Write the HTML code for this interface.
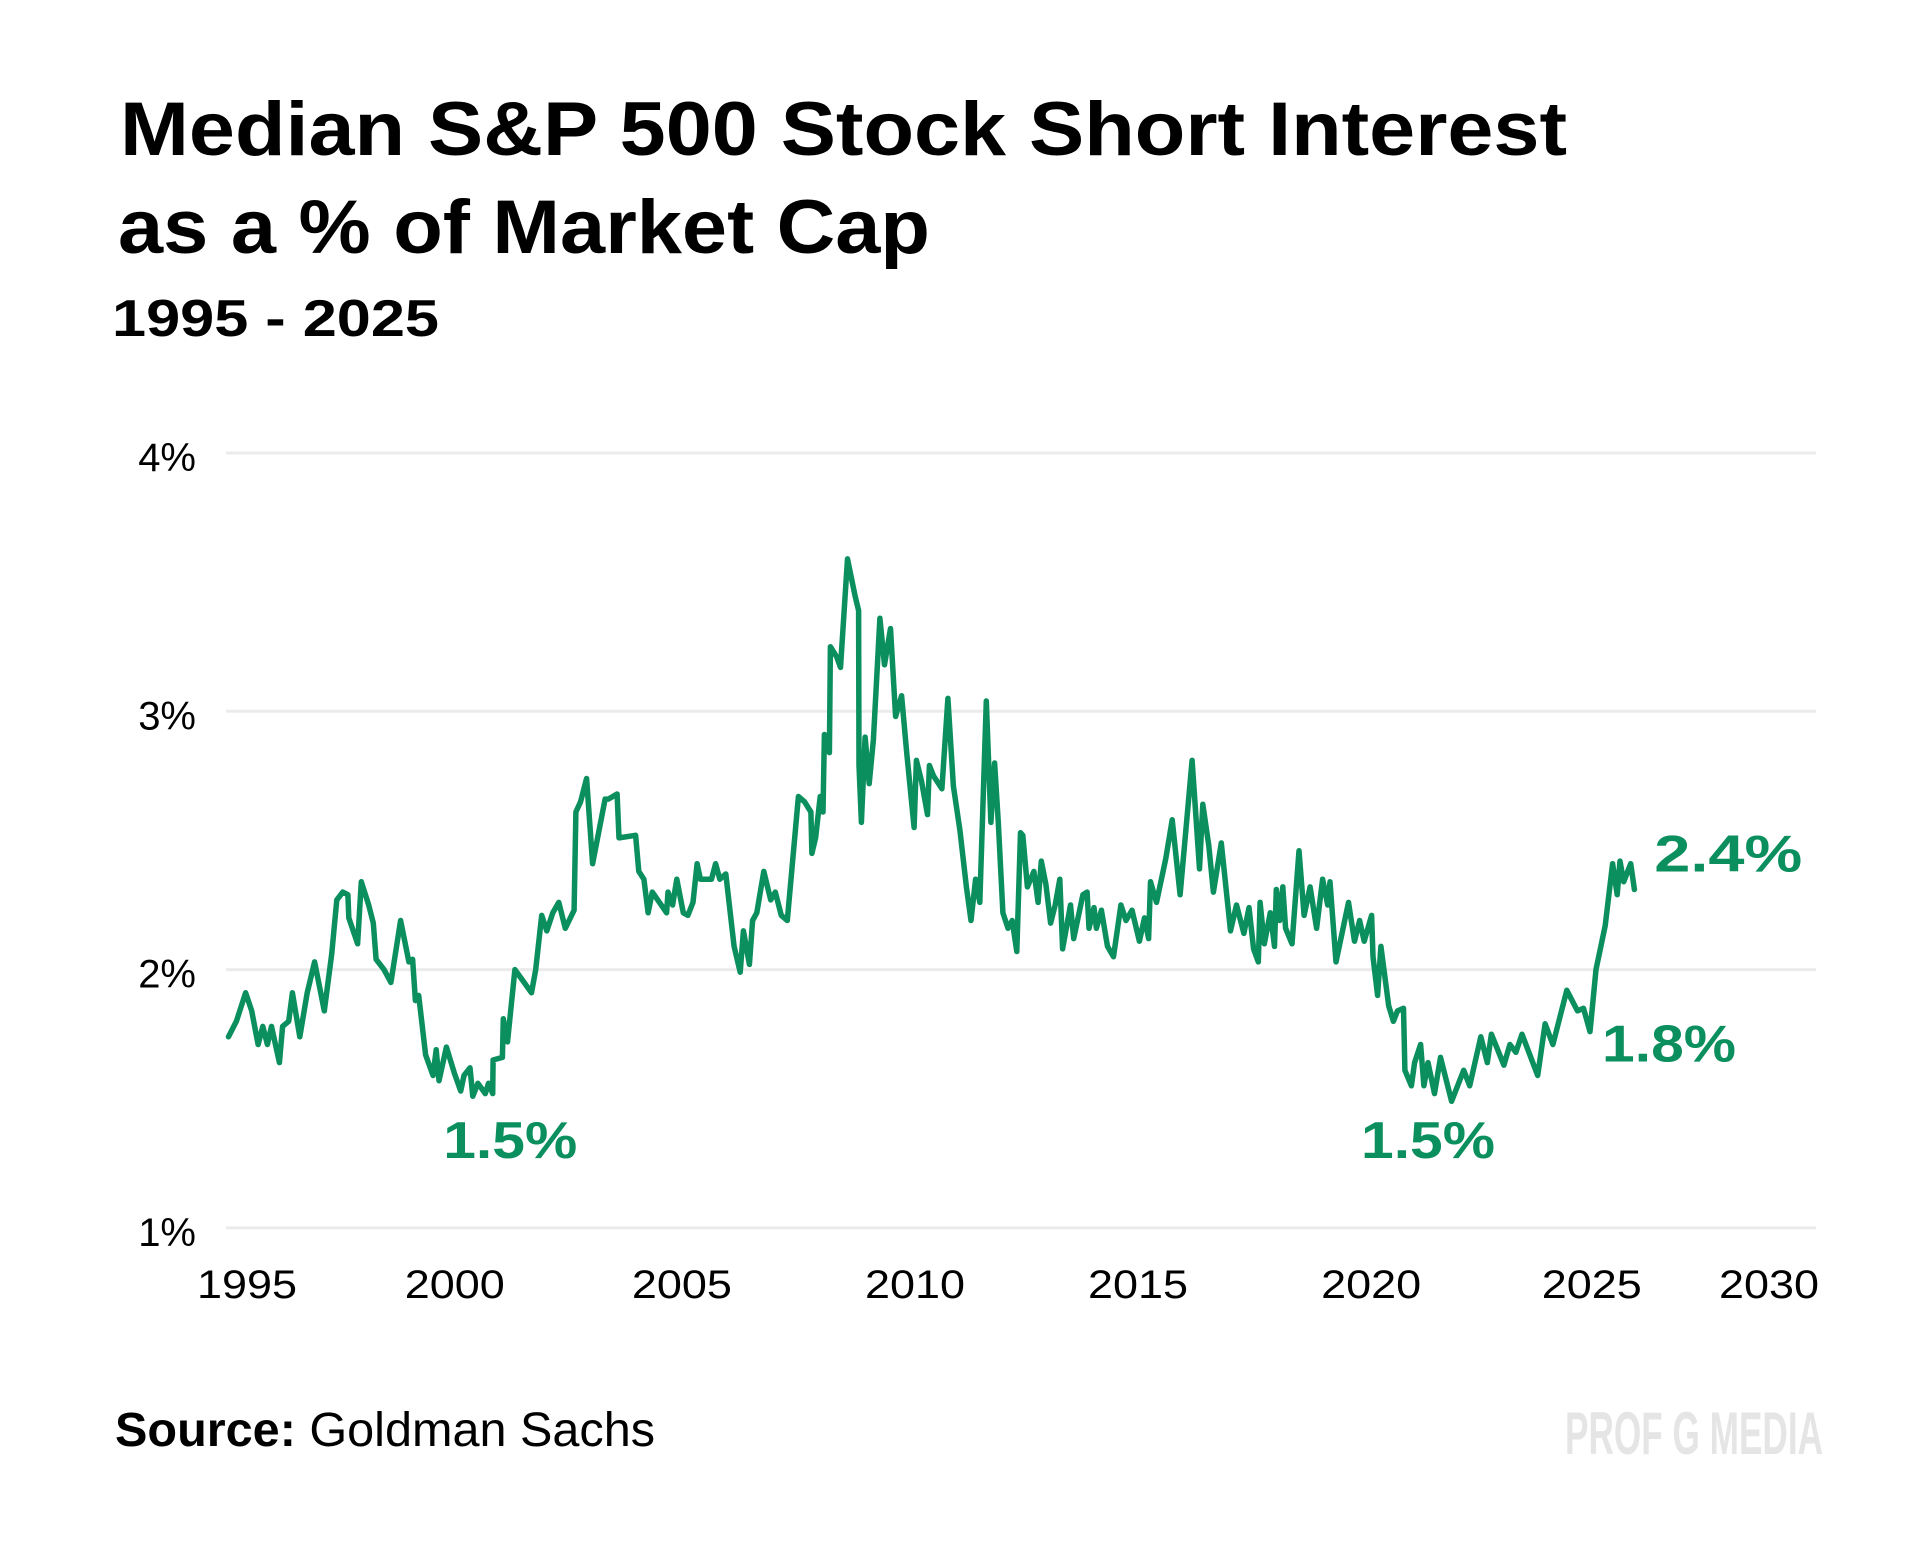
<!DOCTYPE html>
<html><head><meta charset="utf-8"><style>
html,body{margin:0;padding:0;background:#fff;}
svg{display:block;font-family:"Liberation Sans",sans-serif;}
</style></head><body>
<svg id="chart" width="1920" height="1544" viewBox="0 0 1920 1544" xmlns="http://www.w3.org/2000/svg">
<rect width="1920" height="1544" fill="#fff"/>
<text x="120" y="155" font-size="76" font-weight="bold" textLength="1447" lengthAdjust="spacingAndGlyphs">Median S&amp;P 500 Stock Short Interest</text>
<text x="118" y="253" font-size="76" font-weight="bold" textLength="812" lengthAdjust="spacingAndGlyphs">as a % of Market Cap</text>
<text x="112" y="336" font-size="52" font-weight="bold" textLength="327" lengthAdjust="spacingAndGlyphs">1995 - 2025</text>
<g id="grid"></g>
<g id="yaxis"></g>
<g id="xaxis"></g>
<path id="line" fill="none" stroke="#0b8f5e" stroke-width="5.5" stroke-linejoin="round" stroke-linecap="round"/>
<g id="annots"></g>
<text x="115" y="1446" font-size="48" textLength="540" lengthAdjust="spacingAndGlyphs"><tspan font-weight="bold">Source:</tspan> Goldman Sachs</text>
<text x="1565" y="1454" font-size="60" font-weight="bold" fill="#e5e5e5" font-family="Liberation Sans Narrow, Liberation Sans, sans-serif" textLength="258" lengthAdjust="spacingAndGlyphs">PROF G MEDIA</text>
</svg>
<script>
const dates = [1994.86,1995.03,1995.23,1995.36,1995.50,1995.60,1995.70,1995.79,1995.96,1996.03,1996.16,1996.24,1996.40,1996.56,1996.72,1996.93,1997.09,1997.20,1997.33,1997.44,1997.46,1997.65,1997.73,1997.89,1997.99,1998.05,1998.22,1998.37,1998.58,1998.76,1998.84,1998.90,1998.97,1999.12,1999.28,1999.35,1999.41,1999.57,1999.74,1999.88,1999.95,2000.08,2000.14,2000.25,2000.41,2000.48,2000.57,2000.58,2000.78,2000.80,2000.89,2001.05,2001.21,2001.41,2001.50,2001.63,2001.74,2001.87,2002.00,2002.14,2002.33,2002.37,2002.47,2002.60,2002.73,2003.00,2003.07,2003.26,2003.30,2003.66,2003.73,2003.84,2003.93,2004.02,2004.33,2004.36,2004.46,2004.55,2004.69,2004.79,2004.90,2004.99,2005.06,2005.30,2005.39,2005.48,2005.61,2005.79,2005.92,2005.99,2006.12,2006.19,2006.28,2006.43,2006.58,2006.68,2006.81,2006.94,2007.18,2007.31,2007.45,2007.47,2007.55,2007.65,2007.71,2007.74,2007.85,2007.87,2008.01,2008.09,2008.24,2008.40,2008.48,2008.49,2008.54,2008.62,2008.71,2008.80,2008.94,2009.04,2009.17,2009.28,2009.41,2009.52,2009.68,2009.73,2009.84,2009.97,2010.01,2010.10,2010.28,2010.41,2010.53,2010.67,2010.81,2010.91,2011.01,2011.10,2011.24,2011.34,2011.42,2011.50,2011.60,2011.71,2011.80,2011.90,2011.98,2012.03,2012.13,2012.27,2012.36,2012.43,2012.53,2012.63,2012.73,2012.83,2012.89,2013.06,2013.13,2013.33,2013.42,2013.46,2013.57,2013.62,2013.73,2013.86,2013.99,2014.15,2014.26,2014.39,2014.55,2014.66,2014.75,2014.79,2014.92,2015.12,2015.26,2015.43,2015.69,2015.85,2015.92,2016.05,2016.15,2016.32,2016.52,2016.65,2016.81,2016.92,2017.02,2017.12,2017.16,2017.25,2017.38,2017.47,2017.51,2017.58,2017.65,2017.71,2017.85,2018.00,2018.11,2018.24,2018.38,2018.51,2018.62,2018.67,2018.80,2019.07,2019.20,2019.31,2019.41,2019.57,2019.60,2019.70,2019.77,2019.94,2020.04,2020.13,2020.26,2020.29,2020.43,2020.50,2020.63,2020.70,2020.79,2020.93,2021.06,2021.30,2021.45,2021.56,2021.69,2021.93,2022.07,2022.16,2022.43,2022.56,2022.69,2022.82,2023.16,2023.32,2023.49,2023.79,2024.02,2024.15,2024.29,2024.42,2024.62,2024.78,2024.88,2024.94,2025.02,2025.17,2025.25];
const values = [1.74,1.80,1.91,1.84,1.71,1.78,1.71,1.78,1.64,1.78,1.80,1.91,1.74,1.91,2.03,1.84,2.06,2.27,2.30,2.29,2.20,2.10,2.34,2.25,2.18,2.04,2.00,1.95,2.19,2.03,2.04,1.88,1.90,1.67,1.59,1.69,1.57,1.70,1.60,1.53,1.59,1.62,1.51,1.56,1.52,1.56,1.52,1.65,1.66,1.81,1.72,2.00,1.96,1.91,2.00,2.21,2.15,2.22,2.26,2.16,2.23,2.61,2.65,2.74,2.41,2.66,2.66,2.68,2.51,2.52,2.38,2.35,2.22,2.30,2.22,2.30,2.25,2.35,2.22,2.21,2.26,2.41,2.35,2.35,2.41,2.35,2.37,2.09,1.99,2.15,2.02,2.19,2.22,2.38,2.27,2.30,2.21,2.19,2.67,2.65,2.61,2.45,2.51,2.67,2.61,2.91,2.84,3.25,3.21,3.17,3.59,3.45,3.39,2.79,2.57,2.90,2.72,2.89,3.36,3.18,3.32,2.98,3.06,2.84,2.55,2.81,2.73,2.60,2.79,2.75,2.70,3.05,2.71,2.54,2.32,2.19,2.35,2.26,3.04,2.57,2.80,2.57,2.22,2.16,2.19,2.07,2.53,2.52,2.32,2.38,2.26,2.42,2.33,2.18,2.25,2.35,2.08,2.25,2.12,2.29,2.30,2.16,2.24,2.16,2.23,2.09,2.05,2.25,2.19,2.23,2.11,2.20,2.12,2.34,2.26,2.43,2.58,2.29,2.81,2.39,2.64,2.48,2.30,2.49,2.15,2.25,2.14,2.24,2.08,2.03,2.26,2.10,2.22,2.09,2.31,2.19,2.32,2.16,2.10,2.46,2.21,2.32,2.16,2.35,2.25,2.34,2.03,2.26,2.11,2.19,2.11,2.21,2.05,1.90,2.09,1.86,1.80,1.84,1.85,1.61,1.55,1.64,1.71,1.55,1.64,1.52,1.66,1.49,1.56,1.61,1.55,1.74,1.64,1.75,1.63,1.71,1.68,1.75,1.59,1.79,1.71,1.92,1.84,1.85,1.76,2.00,2.17,2.41,2.29,2.42,2.34,2.41,2.31];
const yTicks = [1,2,3,4];
const yTickLabels = ["1%","2%","3%","4%"];
const xTickDates = [1995.26,1999.75,2004.66,2009.70,2014.52,2019.56,2024.33,2028.16];
const xTickLabels = ["1995","2000","2005","2010","2015","2020","2025","2030"];
const annotLabels = ["1.5%","1.5%","1.8%","2.4%"];
const annotDates = [2000.95,2020.79,2026.00,2027.28];
const annotYs = [1.27,1.27,1.645,2.38];

const NS = "http://www.w3.org/2000/svg";
const x = d => 235 + (d - 1995) * 46.26;
const y = v => 453 + (4 - v) * 258.3;

const grid = document.getElementById('grid');
const yaxis = document.getElementById('yaxis');
yTicks.forEach((t, i) => {
  const l = document.createElementNS(NS, 'line');
  
  
  l.setAttribute('x1', 226); l.setAttribute('x2', 1816);
  l.setAttribute('y1', y(t)); l.setAttribute('y2', y(t));
  l.setAttribute('stroke', '#ebebeb'); l.setAttribute('stroke-width', 3);
  grid.appendChild(l);
  const tx = document.createElementNS(NS, 'text');
  
  
  tx.setAttribute('x', 196); tx.setAttribute('y', y(t) + 18);
  tx.setAttribute('text-anchor', 'end'); tx.setAttribute('font-size', 40);
  tx.textContent = yTickLabels[i];
  yaxis.appendChild(tx);
});
const xaxis = document.getElementById('xaxis');
xTickDates.forEach((d, i) => {
  const tx = document.createElementNS(NS, 'text');
  
  
  tx.setAttribute('x', x(d)); tx.setAttribute('y', 1298);
  tx.setAttribute('text-anchor', 'middle'); tx.setAttribute('font-size', 40);
  tx.setAttribute('textLength', 100); tx.setAttribute('lengthAdjust', 'spacingAndGlyphs');
  tx.textContent = xTickLabels[i];
  xaxis.appendChild(tx);
});
let dstr = '';
dates.forEach((d, i) => { dstr += (i ? 'L' : 'M') + x(d).toFixed(1) + ' ' + y(values[i]).toFixed(1); });
document.getElementById('line').setAttribute('d', dstr);
const annots = document.getElementById('annots');
annotLabels.forEach((s, i) => {
  const tx = document.createElementNS(NS, 'text');
  
  
  tx.setAttribute('x', x(annotDates[i])); tx.setAttribute('y', y(annotYs[i]));
  tx.setAttribute('text-anchor', 'middle'); tx.setAttribute('font-size', 52);
  tx.setAttribute('font-weight', 'bold'); tx.setAttribute('fill', '#0b8f5e');
  tx.setAttribute('textLength', i === 3 ? 148 : 134); tx.setAttribute('lengthAdjust', 'spacingAndGlyphs');
  tx.textContent = s;
  annots.appendChild(tx);
});
</script>
</body></html>
